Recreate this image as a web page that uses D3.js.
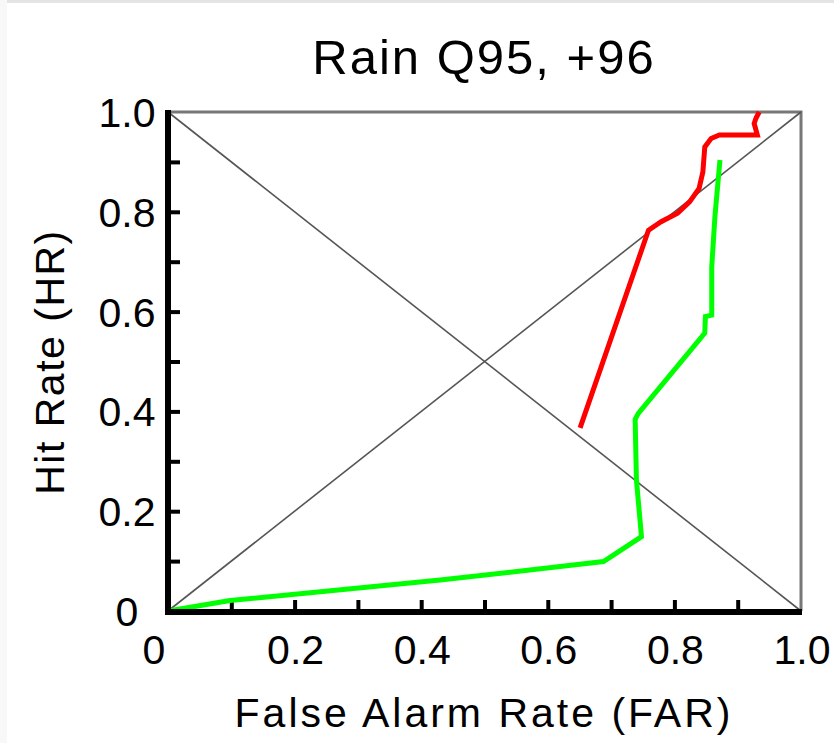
<!DOCTYPE html>
<html>
<head>
<meta charset="utf-8">
<script src="https://cdn.jsdelivr.net/npm/d3@7"></script>
<style>
  html, body { margin: 0; padding: 0; background: #fff; }
  svg { display: block; }
  text { font-family: "Liberation Sans", Arial, Helvetica, sans-serif; fill: #000; }
</style>
</head>
<body>
<svg id="chart" width="834" height="743"></svg>
<script>
// ---- data ----
const chartTitle = "Rain Q95, +96";
const xTitle = "False Alarm Rate (FAR)";
const yTitle = "Hit Rate (HR)";
const tickLabels = [0, 0.2, 0.4, 0.6, 0.8, 1.0];
const tickLabelText = ["0", "0.2", "0.4", "0.6", "0.8", "1.0"];
const minorTicks = [0.1, 0.2, 0.3, 0.4, 0.5, 0.6, 0.7, 0.8, 0.9];

// red series: [FAR, HR]
const redFAR = [0.651, 0.759, 0.779, 0.805, 0.824, 0.839, 0.845, 0.848, 0.858, 0.871, 0.931, 0.926, 0.929, 0.934];
const redHR  = [0.367, 0.763, 0.780, 0.797, 0.820, 0.847, 0.880, 0.930, 0.947, 0.954, 0.954, 0.977, 0.988, 1.000];

// green series: [FAR, HR]
const greenFAR = [0.000, 0.098, 0.430, 0.640, 0.688, 0.748, 0.740, 0.738, 0.743, 0.848, 0.849, 0.859, 0.859, 0.864, 0.872];
const greenHR  = [0.000, 0.021, 0.062, 0.092, 0.099, 0.149, 0.263, 0.384, 0.396, 0.557, 0.590, 0.593, 0.690, 0.790, 0.904];

// ---- layout ----
const svg = d3.select("#chart");
const mLeft = 168, mRight = 801, mTop = 112, mBottom = 611;

const x = d3.scaleLinear().domain([0, 1]).range([mLeft, mRight]);
const y = d3.scaleLinear().domain([0, 1]).range([mBottom, mTop]);

// faint frame artefacts from reference
svg.append("rect").attr("x", 0).attr("y", 0).attr("width", 834).attr("height", 3).attr("fill", "#e4e4e4");
svg.append("rect").attr("x", 0).attr("y", 0).attr("width", 7).attr("height", 743).attr("fill", "#f8f8f8");

// title
svg.append("text")
  .attr("x", 484).attr("y", 74)
  .attr("text-anchor", "middle")
  .style("font-size", "49px")
  .style("letter-spacing", "2px")
  .text(chartTitle);

// top & right border (gray)
svg.append("path")
  .attr("d", `M${x(0)},${y(1)}H${x(1)}V${y(0)}`)
  .attr("fill", "none").attr("stroke", "#777").attr("stroke-width", 3);

// diagonals
const diag = [[0, 0, 1, 1], [0, 1, 1, 0]];
svg.selectAll("line.diag").data(diag).enter().append("line")
  .attr("class", "diag")
  .attr("x1", d => x(d[0])).attr("y1", d => y(d[1]))
  .attr("x2", d => x(d[2])).attr("y2", d => y(d[3]))
  .attr("stroke", "#555").attr("stroke-width", 1.6);

// axes using d3 axes (ticks pointing inward)
const xAxis = d3.axisTop(x).tickValues(minorTicks).tickSize(12).tickFormat("");
const gx = svg.append("g").attr("transform", `translate(0,${mBottom + 1})`).call(xAxis);
gx.select(".domain").remove();
gx.selectAll(".tick line").attr("stroke", "#000").attr("stroke-width", 4);

const yAxis = d3.axisRight(y).tickValues(minorTicks).tickSize(12).tickFormat("");
const gy = svg.append("g").attr("transform", `translate(${mLeft},0)`).call(yAxis);
gy.select(".domain").remove();
gy.selectAll(".tick line").attr("stroke", "#000").attr("stroke-width", 4);

// series lines
const line = d3.line().x(d => x(d[0])).y(d => y(d[1]));
const greenPts = greenFAR.map((v, i) => [v, greenHR[i]]);
const redPts = redFAR.map((v, i) => [v, redHR[i]]);

svg.append("path").datum(greenPts).attr("d", line)
  .attr("fill", "none").attr("stroke", "#00ff00").attr("stroke-width", 5)
  .attr("stroke-linejoin", "miter");
svg.append("path").datum(redPts).attr("d", line)
  .attr("fill", "none").attr("stroke", "#ff0000").attr("stroke-width", 5)
  .attr("stroke-linejoin", "miter");

// thick black axis lines (left & bottom)
svg.append("path")
  .attr("d", `M${x(0)},${y(1) - 2}V${y(0) + 1}H${x(1) + 1}`)
  .attr("fill", "none").attr("stroke", "#000").attr("stroke-width", 6);

// tick labels
svg.selectAll("text.xl").data(tickLabels).enter().append("text")
  .attr("class", "xl")
  .attr("x", (d, i) => x(d) + (i === 0 ? -14 : 1))
  .attr("y", 664)
  .attr("text-anchor", "middle")
  .style("font-size", "41px")
  .text((d, i) => tickLabelText[i]);

svg.selectAll("text.yl").data(tickLabels).enter().append("text")
  .attr("class", "yl")
  .attr("x", 127)
  .attr("y", d => y(d) + 15)
  .attr("text-anchor", "middle")
  .style("font-size", "41px")
  .text((d, i) => tickLabelText[i]);

// axis titles
svg.append("text")
  .attr("x", 484).attr("y", 727)
  .attr("text-anchor", "middle")
  .style("font-size", "41px")
  .style("letter-spacing", "3px")
  .text(xTitle);

svg.append("text")
  .attr("transform", "translate(64,362) rotate(-90)")
  .attr("text-anchor", "middle")
  .style("font-size", "41px")
  .style("letter-spacing", "1.5px")
  .text(yTitle);
</script>
</body>
</html>
